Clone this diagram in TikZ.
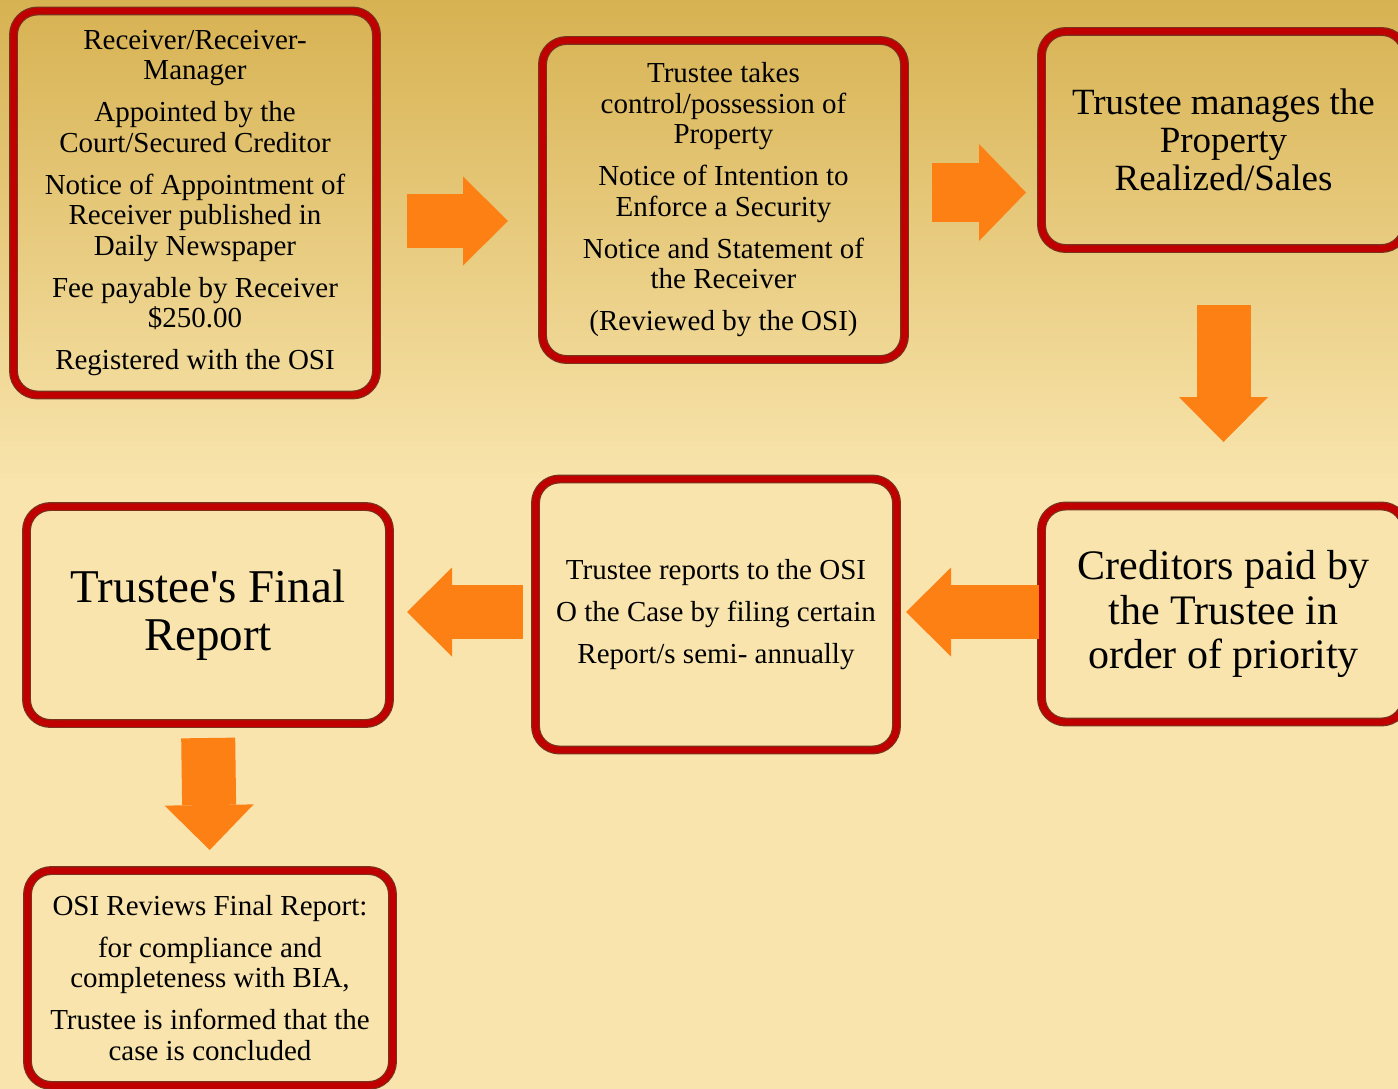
\documentclass[tikz,border=0pt]{standalone}
\usepackage{fontspec}
\setmainfont{Liberation Serif}
\usetikzlibrary{arrows.meta}
\definecolor{bgtop}{RGB}{215,178,82}
\definecolor{bglow}{RGB}{248,228,172}
\definecolor{boxred}{RGB}{192,0,0}
\definecolor{boxedge}{RGB}{120,50,30}
\definecolor{arrorange}{RGB}{253,128,20}
\tikzset{
  stepbox/.style={draw=boxedge, double=boxred, line width=1.2pt, double distance=6.5pt,
    rounded corners=24pt, align=center, inner sep=0pt, outer sep=0pt,
    font=\fontsize{29}{30.5}\selectfont},
  blockarrow/.style={draw=arrorange, line width=54pt, line cap=butt,
    -{Triangle[length=45pt,width=89pt,line width=0pt,fill=arrorange]}}
}
\begin{document}
\begin{tikzpicture}[x=1pt,y=-1pt]
  \useasboundingbox (0,0) rectangle (1398,1089);
  % background
  \shade [top color=bgtop, bottom color=bglow] (0,0) rectangle (1398,480);
  \fill [bglow] (0,479) rectangle (1398,1089);
  % boxes
  \node [stepbox, minimum width=363pt, minimum height=384pt] (recv) at (195,203)
    {Receiver/Receiver-\\Manager\\[11.5pt]Appointed by the\\Court/Secured Creditor\\[11.5pt]
     Notice of Appointment of\\Receiver published in\\Daily Newspaper\\[11.5pt]
     Fee payable by Receiver\\\$250.00\\[11.5pt]Registered with the OSI};
  \node [stepbox, minimum width=362pt, minimum height=319pt] (control) at (723.5,200)
    {Trustee takes\\control/possession of\\Property\\[11.5pt]Notice of Intention to\\
     Enforce a Security\\[11.5pt]Notice and Statement of\\the Receiver\\[11.5pt]
     (Reviewed by the OSI)};
  \node [stepbox, minimum width=364pt, minimum height=217pt,
    font=\fontsize{37}{38}\selectfont] (manage) at (1223.5,140)
    {Trustee manages the\\Property\\Realized/Sales};
  \node [stepbox, minimum width=364pt, minimum height=216pt,
    font=\fontsize{42}{44.5}\selectfont] (paid) at (1223.5,614)
    {Creditors paid by\\the Trustee in\\order of priority};
  \node [stepbox, minimum width=361pt, minimum height=271pt] (report) at (716,614.5)
    {Trustee reports to the OSI\\[11.5pt]O the Case by filing certain\\[11.5pt]
     Report/s semi- annually};
  \node [stepbox, minimum width=363pt, minimum height=217pt,
    font=\fontsize{47}{48}\selectfont] (final) at (208,615)
    {Trustee\textquotesingle s Final\\Report};
  \node [stepbox, minimum width=365pt, minimum height=215pt] (review) at (210,978)
    {OSI Reviews Final Report:\\[11.5pt]for compliance and\\completeness with BIA,\\[11.5pt]
     Trustee is informed that the\\case is concluded};
  % arrows
  \draw [blockarrow, shorten <=30.5pt, shorten >=34.5pt] (recv.east |- 0,221) -- (control.west |- 0,221);
  \draw [blockarrow, line width=59pt, shorten <=27.5pt, shorten >=15.5pt,
    -{Triangle[length=47pt,width=97pt,line width=0pt,fill=arrorange]}]
    (control.east |- 0,192.5) -- (manage.west |- 0,192.5);
  \draw [blockarrow, shorten <=56.5pt, shorten >=64pt] (manage.south) -- (paid.north);
  \draw [blockarrow, shorten <=2.5pt, shorten >=9.5pt] (paid.west |- 0,612) -- (report.east |- 0,612);
  \draw [blockarrow, shorten <=12.5pt, shorten >=17.5pt] (report.west |- 0,612) -- (final.east |- 0,612);
  \draw [blockarrow, shorten <=14.5pt, shorten >=20.5pt] (final.south) -- (review.north);
\end{tikzpicture}
\end{document}
